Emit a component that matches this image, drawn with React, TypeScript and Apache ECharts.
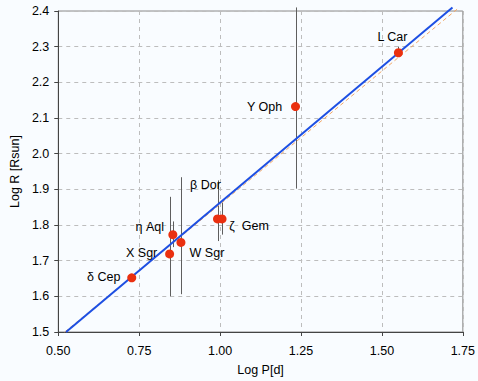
import React, { useEffect, useRef } from "react";
import * as echarts from "echarts";

const starNames = ["δ Cep", "X Sgr", "η Aql", "W Sgr", "β Dor", "ζ  Gem", "Y Oph", "L Car"];
const logP = [0.727, 0.844, 0.854, 0.879, 0.992, 1.006, 1.233, 1.551];
const logR = [1.652, 1.719, 1.773, 1.751, 1.817, 1.817, 2.132, 2.283];

// error bars: [logP, low, high]
const errorBars: number[][] = [
  [0.844, 1.6, 1.879],
  [0.854, 1.738, 1.81],
  [0.879, 1.606, 1.934],
  [0.992, 1.755, 1.925],
  [1.006, 1.773, 1.863],
  [1.233, 1.902, 2.41],
  [1.551, 2.283, 2.3],
];

const blueFit = [[0.524, 1.5], [1.718, 2.41]];
const orangeFit = [[0.52, 1.5], [1.739, 2.41]];

const xTicks = { min: 0.5, max: 1.75, interval: 0.25 };
const yTicks = { min: 1.5, max: 2.4, interval: 0.1 };

// label offsets (style only)
const labelOffsets: number[][] = [
  [-28, -1],
  [-28, -1],
  [-23, -8],
  [26, 11],
  [-12, -34],
  [27, 7],
  [-31, 0],
  [-6, -16],
];

export default function App() {
  const ref = useRef<HTMLDivElement>(null);
  useEffect(() => {
    if (!ref.current) return;
    const chart = echarts.init(ref.current, undefined, { renderer: "svg" });
    const font = "Liberation Sans, Arial, Helvetica, sans-serif";
    const fs = 12.5;
    chart.setOption({
      animation: false,
      backgroundColor: "#f9fcff",
      textStyle: { fontFamily: font },
      grid: {
        left: 52,
        right: 15,
        top: 11,
        bottom: 45,
        show: true,
        borderColor: "#8a8a8a",
        borderWidth: 1,
        backgroundColor: "transparent",
      },
      xAxis: {
        type: "value",
        min: xTicks.min,
        max: xTicks.max,
        interval: xTicks.interval,
        name: "Log P[d]",
        nameLocation: "middle",
        nameGap: 31,
        nameTextStyle: { color: "#000", fontSize: fs, fontFamily: font },
        axisLine: { lineStyle: { color: "#444", width: 1 } },
        axisTick: { show: true, length: 4, lineStyle: { color: "#444" } },
        axisLabel: {
          color: "#000",
          fontSize: fs,
          margin: 12,
          fontFamily: font,
          formatter: (v: number) => v.toFixed(2),
        },
        splitLine: { show: true, lineStyle: { color: "#bdbdbd", type: [4, 4], width: 1 } },
      },
      yAxis: {
        type: "value",
        min: yTicks.min,
        max: yTicks.max,
        interval: yTicks.interval,
        name: "Log R [Rsun]",
        nameLocation: "middle",
        nameGap: 35,
        nameTextStyle: { color: "#000", fontSize: fs, fontFamily: font },
        axisLine: { show: true, lineStyle: { color: "#444", width: 1 } },
        axisTick: { show: true, length: 4, lineStyle: { color: "#444" } },
        axisLabel: {
          color: "#000",
          fontSize: fs,
          margin: 9,
          fontFamily: font,
          formatter: (v: number) => v.toFixed(1),
        },
        splitLine: { show: true, lineStyle: { color: "#bdbdbd", type: [4, 4], width: 1 } },
      },
      series: [
        {
          type: "custom",
          clip: false,
          silent: true,
          z: 2,
          data: errorBars,
          renderItem: (params: any, api: any) => {
            const x = api.value(0);
            const p1 = api.coord([x, api.value(1)]);
            const p2 = api.coord([x, api.value(2)]);
            return {
              type: "line",
              shape: { x1: Math.round(p1[0]) + 0.5, y1: p1[1], x2: Math.round(p2[0]) + 0.5, y2: p2[1] },
              style: { stroke: "#5e5e5e", lineWidth: 1 },
            };
          },
        },
        {
          type: "line",
          data: orangeFit,
          clip: false,
          symbol: "none",
          z: 3,
          lineStyle: { color: "#f2a868", width: 1, type: [4, 3] },
        },
        {
          type: "line",
          data: blueFit,
          clip: false,
          symbol: "none",
          z: 4,
          lineStyle: { color: "#1d4fe3", width: 2 },
        },
        {
          type: "scatter",
          z: 5,
          symbolSize: 9,
          itemStyle: { color: "#ea3010", opacity: 1 },
          data: logP.map((x, i) => ({
            value: [x, logR[i]],
            name: starNames[i],
            label: {
              show: true,
              position: "inside",
              offset: labelOffsets[i],
              formatter: starNames[i],
              color: "#000",
              textBorderWidth: 0,
              textBorderColor: "transparent",
              fontSize: fs,
              fontFamily: font,
            },
          })),
        },
      ],
    });
    return () => chart.dispose();
  }, []);
  return (
    <div
      ref={ref}
      style={{ position: "fixed", left: 0, top: 0, width: 478, height: 381 }}
    />
  );
}
